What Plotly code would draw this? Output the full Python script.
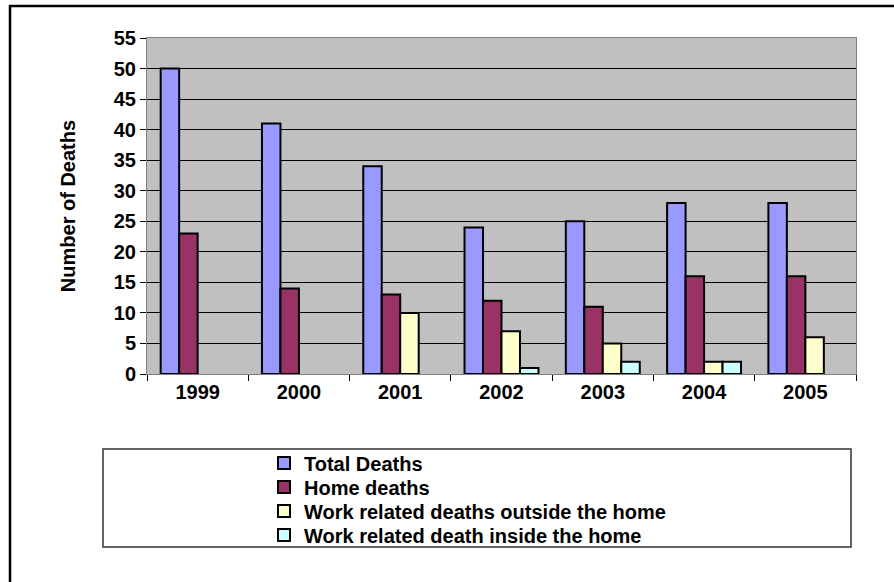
import plotly.graph_objects as go

# Deaths per year by category
years = ["1999", "2000", "2001", "2002", "2003", "2004", "2005"]
total_deaths = [50, 41, 34, 24, 25, 28, 28]
home_deaths = [23, 14, 13, 12, 11, 16, 16]
work_outside = [None, None, 10, 7, 5, 2, 6]
work_inside = [None, None, None, 1, 2, 2, None]

series_names = [
    "Total Deaths",
    "Home deaths",
    "Work related deaths outside the home",
    "Work related death inside the home",
]
series_values = [total_deaths, home_deaths, work_outside, work_inside]
series_colors = ["#9999FF", "#993366", "#FFFFCC", "#CCFFFF"]

y_ticks = list(range(0, 56, 5))

FONT = "Arial, Liberation Sans, sans-serif"
W, H = 894, 582
ML, MR, MT, MB = 147, 38, 38, 208
PW, PH = W - ML - MR, H - MT - MB


def px_x(x):
    return (x - ML) / PW


def px_y(y):
    return (H - MB - y) / PH


legend_ids = ["legend", "legend2", "legend3", "legend4"]
legend_rows = [463, 487, 511, 535]

fig = go.Figure()
for name, vals, col, lid in zip(series_names, series_values, series_colors, legend_ids):
    fig.add_trace(go.Bar(
        x=years, y=vals, name=name, legend=lid,
        marker=dict(color=col, line=dict(color="black", width=2)),
    ))

legend_style = dict(
    xanchor="left", yanchor="middle",
    bgcolor="rgba(0,0,0,0)", borderwidth=0,
    font=dict(family=FONT, size=20, color="black", weight="bold"),
    itemclick=False, itemdoubleclick=False,
)
legend_layout = {
    lid: dict(x=px_x(264), y=px_y(row), **legend_style)
    for lid, row in zip(legend_ids, legend_rows)
}

fig.update_layout(
    width=W, height=H,
    margin=dict(l=ML, r=MR, t=MT, b=MB, pad=0),
    paper_bgcolor="white",
    plot_bgcolor="#C0C0C0",
    barmode="group",
    bargap=0.27,
    bargroupgap=0,
    font=dict(family=FONT, size=20, color="black", weight="bold"),
    showlegend=True,
    xaxis=dict(
        type="category", tickson="boundaries",
        ticks="outside", ticklen=6, tickcolor="black", tickwidth=1,
        showline=True, linecolor="#808080", linewidth=1, mirror=True,
        showgrid=False,
        tickfont=dict(family=FONT, size=20, weight="bold"),
    ),
    yaxis=dict(
        range=[0, 55], tickvals=y_ticks,
        ticks="outside", ticklen=6, tickcolor="black", tickwidth=1,
        showline=True, linecolor="#808080", linewidth=1, mirror=True,
        showgrid=True, gridcolor="black", gridwidth=1,
        zeroline=False,
        tickfont=dict(family=FONT, size=20, weight="bold"),
        title=dict(text="Number of Deaths", standoff=32,
                   font=dict(family=FONT, size=20, weight="bold")),
    ),
    shapes=[
        # outer chart frame
        dict(type="rect", xref="paper", yref="paper",
             x0=px_x(10), x1=px_x(W + 10), y0=px_y(H + 10), y1=px_y(6),
             line=dict(color="black", width=2.5), fillcolor="rgba(0,0,0,0)",
             layer="below"),
        # legend frame
        dict(type="rect", xref="paper", yref="paper",
             x0=px_x(103), x1=px_x(851), y0=px_y(547), y1=px_y(449),
             line=dict(color="#333333", width=1.5), fillcolor="rgba(0,0,0,0)"),
    ],
    **legend_layout,
)

fig.write_html("out.html")
